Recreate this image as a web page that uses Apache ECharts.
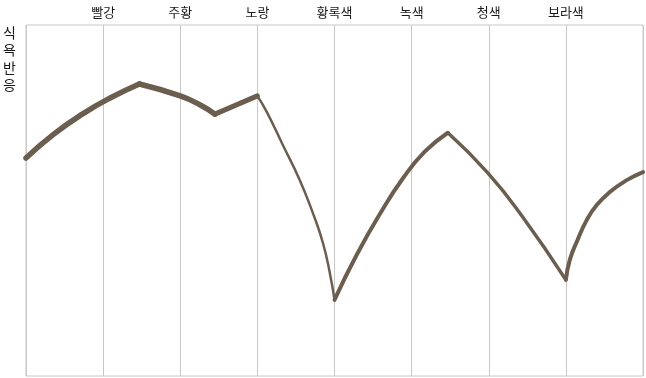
<!DOCTYPE html>
<html>
<head>
<meta charset="utf-8">
<script src="https://cdn.jsdelivr.net/npm/echarts@6/dist/echarts.min.js"></script>
<style>
html,body{margin:0;padding:0;background:#fff;}
#chart{width:646px;height:378px;}
</style>
</head>
<body>
<div id="chart"></div>
<script>
// Category labels (placed at positions 1..7 on the horizontal scale 0..8)
const categories = ['빨강', '주황', '노랑', '황록색', '녹색', '청색', '보라색'];
const yAxisTitle = '식욕 반응';

// Curve, split at the corners: [position, response]
const segRedRise    = [[0, 62.1], [0.36, 68.9], [0.73, 74.6], [1.09, 79.2], [1.47, 83.2]];
const segOrangeFall = [[1.47, 83.2], [2.0, 79.8], [2.26, 77.2], [2.45, 74.6]];
const segYellowRise = [[2.45, 74.6], [3.0, 79.8]];
const segYGFall     = [[3.0, 79.8], [3.13, 74.9], [3.33, 65.8], [3.55, 55.8], [3.72, 46.4], [3.85, 37.9], [3.94, 29.3], [4.0, 21.7]];
const segGreenRise  = [[4.0, 21.7], [4.29, 34.6], [4.59, 46.2], [4.89, 56.4], [5.17, 63.9], [5.47, 69.3]];
const segBlueFall   = [[5.47, 69.3], [5.99, 57.8], [6.44, 45.3], [7.0, 27.4]];
const segVioletRise = [[7.0, 27.4], [7.05, 33.0], [7.15, 38.7], [7.27, 44.4], [7.40, 48.7], [7.57, 52.4], [7.79, 55.8], [8.0, 58.1]];

const segments = [
  { data: segRedRise, width: 5.5 },
  { data: segOrangeFall, width: 5.5 },
  { data: segYellowRise, width: 5 },
  { data: segYGFall, width: 2.5 },
  { data: segGreenRise, width: 4 },
  { data: segBlueFall, width: 3.5 },
  { data: segVioletRise, width: 4 }
];

const lineColor = '#6b5e4f';

const chart = echarts.init(document.getElementById('chart'), null, { renderer: 'canvas' });
chart.setOption({
  animation: false,
  backgroundColor: '#fff',
  grid: { left: 26, right: 3, top: 25, bottom: 2, show: true, borderColor: '#c8c8c8', borderWidth: 1 },
  xAxis: {
    type: 'value', position: 'top', min: 0, max: 8, interval: 1,
    axisLine: { show: false }, axisTick: { show: false },
    splitLine: { show: true, lineStyle: { color: '#c8c8c8', width: 1 } },
    axisLabel: {
      show: true, margin: 6, color: '#1a1a1a', fontSize: 13,
      fontFamily: '"Noto Sans CJK KR", "Noto Sans", sans-serif',
      formatter: function (v) { const i = Math.round(v) - 1; return (i >= 0 && i < categories.length) ? categories[i] : ''; }
    }
  },
  yAxis: {
    type: 'value', min: 0, max: 100,
    axisLine: { show: false }, axisTick: { show: false },
    splitLine: { show: false }, axisLabel: { show: false }
  },
  graphic: [{
    type: 'text', left: 3, top: 24,
    style: {
      text: yAxisTitle.replace(' ', '').split('').join('\n'),
      fontSize: 14, lineHeight: 17.3, fill: '#1a1a1a',
      fontFamily: '"Noto Sans CJK KR", "Noto Sans", sans-serif'
    }
  }],
  series: segments.map(function (s) {
    return {
      type: 'line', data: s.data, smooth: 0.5, symbol: 'none',
      lineStyle: { color: lineColor, width: s.width, cap: 'round', join: 'round' }
    };
  })
});
</script>
</body>
</html>
